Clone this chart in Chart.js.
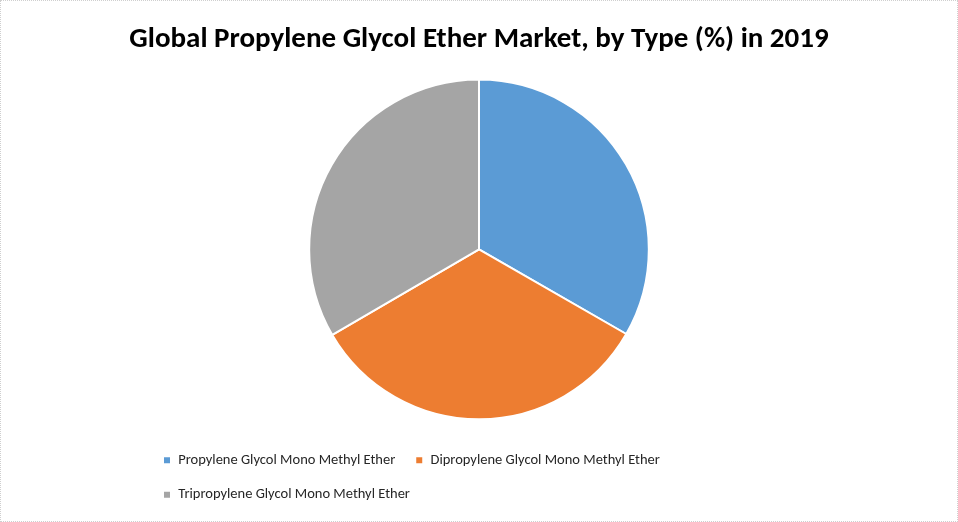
<!DOCTYPE html>
<html>
<head>
<meta charset="utf-8">
<script src="https://cdn.jsdelivr.net/npm/chart.js@4/dist/chart.umd.min.js"></script>
<style>
  html, body { margin: 0; padding: 0; background: #fff; }
  .frame {
    width: 958px; height: 522px; box-sizing: border-box;
    border: 1px dotted #cfcfcf; position: relative;
  }
  canvas { display: block; }
</style>
</head>
<body>
<div class="frame"><canvas id="chartJenis" width="956" height="520"></canvas></div>
<script>
const categories = [
    'Propylene Glycol Mono Methyl Ether',
    'Dipropylene Glycol Mono Methyl Ether',
    'Tripropylene Glycol Mono Methyl Ether',
];
const shares = [33.3, 33.3, 33.4];
const colors = ['#5B9BD5', '#ED7D31', '#A5A5A5'];

const fontFamily = 'Carlito, Lato, "Open Sans", sans-serif';

// legend sits in a narrower column than the title, so rows wrap like the original
const insetLegend = {
    id: 'insetLegend',
    beforeLayout(chart, _args, options) {
        const legend = chart.legend;
        if (!legend || legend._inset) return;
        legend._inset = true;
        const update = legend.update;
        legend.update = function (maxWidth, maxHeight, margins) {
            update.call(this, maxWidth - options.left - options.right, maxHeight, margins);
        };
    },
    afterLayout(chart, _args, options) {
        const legend = chart.legend;
        if (!legend) return;
        legend.left += options.left;
        legend.right -= options.right;
    },
};

new Chart(document.getElementById('chartJenis'), {
    type: 'pie',
    data: {
        labels: categories,
        datasets: [{
            data: shares,
            backgroundColor: colors,
            borderColor: '#ffffff',
            borderWidth: 2,
            radius: '93%',
        }],
    },
    plugins: [insetLegend],
    options: {
        responsive: false,
        animation: false,
        layout: { padding: { top: 8, left: 0, right: 0, bottom: 9 } },
        plugins: {
            insetLegend: { left: 142, right: 142 },
            title: {
                display: true,
                text: 'Global Propylene Glycol Ether Market, by Type (%) in 2019',
                color: '#000',
                font: { family: fontFamily, size: 29, weight: 'bold' },
                padding: { top: 13, bottom: 9 },
            },
            legend: {
                position: 'bottom',
                align: 'start',
                labels: {
                    color: '#262626',
                    font: { family: fontFamily, size: 14.5 },
                    boxWidth: 8,
                    boxHeight: 8,
                    padding: 20,
                },
            },
            tooltip: { enabled: false },
        },
    },
});
</script>
</body>
</html>
